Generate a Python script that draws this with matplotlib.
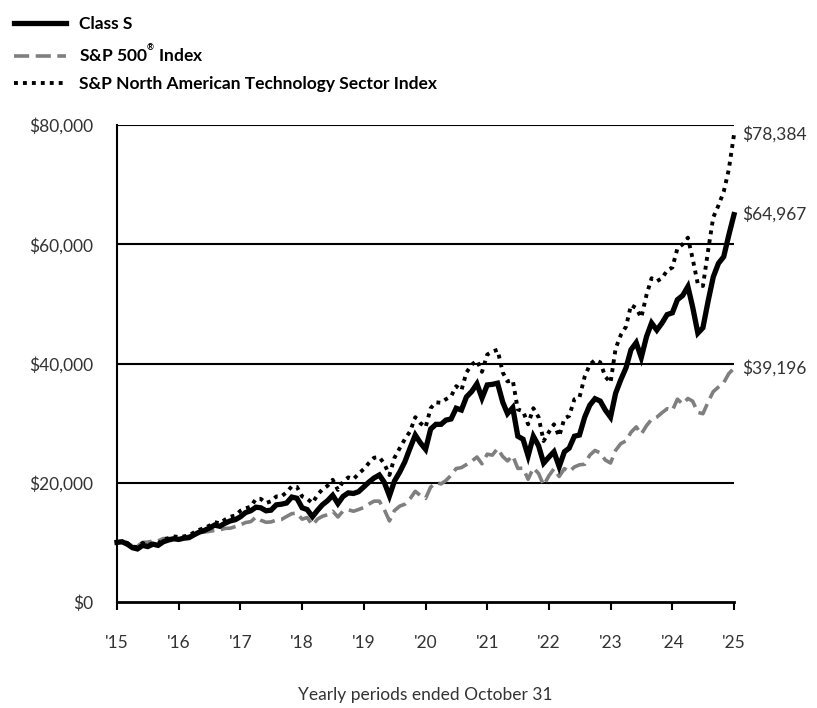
import matplotlib
matplotlib.use("Agg")
import matplotlib.pyplot as plt
import pandas as pd

plt.rcParams['font.family'] = ['Lato', 'DejaVu Sans']
plt.rcParams['mathtext.default'] = 'regular'

dates = pd.date_range('2015-10-31', periods=121, freq='ME')

class_s = [10000, 10100, 9700, 9100, 8900, 9500, 9300, 9700, 9500, 10100, 10400, 10600, 10500,
           10700, 10800, 11300, 11700, 12000, 12400, 12900, 12700, 13200, 13600, 13800, 14300,
           15000, 15300, 15900, 15800, 15300, 15400, 16300, 16400, 16600, 17600, 17400, 15800,
           15500, 14300, 15400, 16300, 17000, 17900, 16500, 17700, 18300, 18200, 18500, 19300,
           20100, 20800, 21300, 20100, 17800, 20300, 21800, 23500, 25800, 28000, 26700, 25600,
           29000, 29800, 29800, 30500, 30700, 32500, 32200, 34400, 35300, 36600, 34200, 36400,
           36500, 36700, 33500, 31600, 32600, 27800, 27300, 24500, 27800, 26200, 23300, 24300,
           25200, 22700, 25200, 25800, 27800, 28000, 31000, 33000, 34100, 33700, 32200, 31000,
           35000, 37300, 39300, 42300, 43500, 41000, 44500, 46800, 45600, 46800, 48200, 48500,
           50700, 51400, 52900, 49500, 45100, 46000, 50500, 54500, 56800, 57900, 61500, 64967]

sp500 = [10000, 10030, 9870, 9377, 9367, 10004, 10044, 10225, 10256, 10635, 10646, 10646, 10454,
         10841, 11058, 11268, 11719, 11731, 11848, 12014, 12086, 12340, 12377, 12637, 12928,
         13329, 13475, 14243, 13716, 13373, 13427, 13749, 13832, 14344, 14817, 14906, 13892,
         14170, 12895, 13926, 14372, 14645, 15231, 14256, 15254, 15468, 15220, 15509, 15850,
         16421, 16914, 16914, 15527, 13602, 15343, 16080, 16401, 17320, 18567, 17861, 17379,
         19273, 20006, 19806, 20360, 21256, 22383, 22540, 23058, 23611, 24320, 23177, 24799,
         24626, 25734, 24396, 23664, 24540, 22405, 22450, 20586, 22480, 21559, 19576, 21161,
         22346, 21050, 22376, 21839, 22647, 23009, 23101, 24626, 25414, 25007, 23807, 23307,
         25428, 26572, 27024, 28456, 29367, 28163, 29571, 30636, 31003, 31747, 32414, 32122,
         34017, 33201, 34131, 33687, 31800, 31577, 33566, 35278, 36054, 36775, 38300, 39196]

tech = [10000, 10200, 9900, 9300, 9200, 9900, 9500, 9900, 9800, 10500, 10700, 11000, 10900,
        11000, 11200, 11700, 12100, 12400, 12800, 13400, 13200, 13800, 14300, 14500, 15300,
        15700, 16000, 17300, 17300, 16600, 16900, 17700, 17700, 18400, 19400, 19300, 17700,
        17300, 16600, 18000, 18900, 19500, 20500, 18800, 20200, 20900, 20600, 21500, 22300,
        23300, 24200, 24300, 23200, 21300, 24200, 25800, 27300, 28600, 31000, 30000, 29300,
        32500, 33500, 33400, 34000, 34500, 36200, 35500, 38500, 39800, 40500, 38600, 41500,
        42000, 42300, 38500, 37000, 37200, 32300, 32000, 29800, 32500, 31000, 27000, 28500,
        29800, 27800, 30800, 31200, 34000, 34300, 37800, 39800, 40600, 40200, 37800, 36800,
        42500, 44800, 46200, 49800, 49300, 47700, 51500, 54300, 53800, 54300, 55600, 56100,
        59300, 60000, 61100, 57600, 53300, 53000, 59000, 64500, 66500, 68800, 72500, 78384]

labels = ['Class S', 'S&P 500$^{^{®}}$ Index', 'S&P North American Technology Sector Index']
end_labels = ['$64,967', '$39,196', '$78,384']
year_labels = ["'15", "'16", "'17", "'18", "'19", "'20", "'21", "'22", "'23", "'24", "'25"]
y_ticks = [0, 20000, 40000, 60000, 80000]
y_tick_labels = ['$0', '$20,000', '$40,000', '$60,000', '$80,000']

TXT = '#333333'

fig = plt.figure(figsize=(8.17, 7.08), dpi=100)
ax = fig.add_axes([117/817, 1-602/708, (734-117)/817, (602-125)/708])

for yv in y_ticks[1:]:
    ax.axhline(yv, color='black', lw=1.5, zorder=1)

l_sp, = ax.plot(dates, sp500, color='#7f7f7f', lw=2.6, ls=(0, (4.2, 1.8)), zorder=3,
                clip_on=False, dash_capstyle='butt')
l_te, = ax.plot(dates, tech, color='black', lw=2.8, ls=(0, (1, 1.3)), zorder=4,
                clip_on=False, dash_capstyle='butt')
l_cs, = ax.plot(dates, class_s, color='black', lw=3.8, zorder=5, clip_on=False,
                solid_joinstyle='miter')

ax.set_xlim(dates[0], dates[-1])
ax.set_ylim(0, 80000)
ax.set_yticks(y_ticks)
ax.set_yticklabels(y_tick_labels)
tick_dates = [d for d in dates if d.month == 10]
ax.set_xticks(tick_dates)
ax.set_xticklabels(year_labels)

for s in ['top', 'right']:
    ax.spines[s].set_visible(False)
ax.spines['left'].set_linewidth(1.5)
ax.spines['bottom'].set_linewidth(2)
ax.tick_params(axis='y', length=0, pad=17, labelsize=12.5, labelcolor=TXT)
ax.tick_params(axis='x', length=6, width=1.5, pad=18, labelsize=12.5, labelcolor=TXT)
ax.set_xlabel('Yearly periods ended October 31', fontsize=12.5, color=TXT, labelpad=26)

for val, txt in zip([class_s[-1], sp500[-1], tech[-1]], end_labels):
    ax.annotate(txt, xy=(dates[-1], val), xytext=(6, 0), textcoords='offset points',
                va='center', ha='left', fontsize=12.5, color=TXT, annotation_clip=False)

leg = fig.legend([l_cs, l_sp, l_te], labels, loc='upper left', bbox_to_anchor=(-0.002, 1.0),
                 frameon=False, handlelength=3.0, handletextpad=0.75, labelspacing=0.65,
                 prop={'weight': 'bold', 'size': 12.5})

fig.savefig('out.png', dpi=100)
